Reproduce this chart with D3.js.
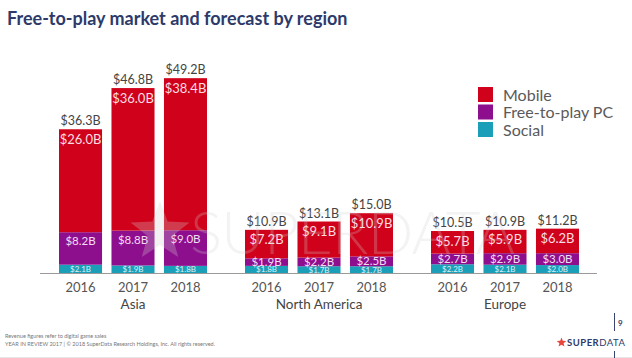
<!DOCTYPE html>
<html><head><meta charset="utf-8">
<script src="https://cdn.jsdelivr.net/npm/d3@7"></script>
<style>body{margin:0;background:#fff}svg{display:block;font-family:Lato,"Open Sans",sans-serif}</style>
</head><body><svg id="c" width="632" height="358"></svg>
<script>
const regions = ["Asia", "North America", "Europe"];
const years = ["2016", "2017", "2018"];
const seriesNames = ["Social", "Free-to-play PC", "Mobile"];
// values per region, per year (billions USD)
const social = [[2.1, 1.9, 1.8], [1.8, 1.7, 1.7], [2.2, 2.1, 2.0]];
const pc = [[8.2, 8.8, 9.0], [1.9, 2.2, 2.5], [2.7, 2.9, 3.0]];
const mobile = [[26.0, 36.0, 38.4], [7.2, 9.1, 10.9], [5.7, 5.9, 6.2]];
const totals = [[36.3, 46.8, 49.2], [10.9, 13.1, 15.0], [10.5, 10.9, 11.2]];
const colors = {"Mobile": "#d0021b", "Free-to-play PC": "#8e0f8e", "Social": "#1b9fb8"};
const legendOrder = ["Mobile", "Free-to-play PC", "Social"];

const svg = d3.select("#c");
const y = d3.scaleLinear().domain([0, 50]).range([273, 75]);
const xr = d3.scaleBand().domain(regions).range([40, 598]);
const xi = d3.scaleBand().domain(years).range([19, 167]).paddingInner(0.18);

// title
svg.append("text").attr("x", 7).attr("y", 25).attr("fill", "#2d3a6a")
  .attr("font-size", 18).attr("font-weight", 700).text("Free-to-play market and forecast by region");

// rows
const rows = [];
regions.forEach((r, ri) => years.forEach((yr, yi) => {
  rows.push({region: r, year: yr, Social: social[ri][yi], "Free-to-play PC": pc[ri][yi], Mobile: mobile[ri][yi], total: totals[ri][yi]});
}));
const stack = d3.stack().keys(seriesNames)(rows);

const g = svg.append("g");
stack.forEach(layer => {
  g.selectAll(null).data(layer).enter().append("rect")
    .attr("x", d => xr(d.data.region) + xi(d.data.year))
    .attr("width", xi.bandwidth())
    .attr("y", d => y(d[1]))
    .attr("height", d => y(d[0]) - y(d[1]))
    .attr("fill", colors[layer.key]);
});

// watermark (behind labels)
const starPath = (cxp, cyp, R, r) => {
  const pts = [];
  for (let i = 0; i < 10; i++) {
    const a = -Math.PI / 2 + i * Math.PI / 5, rr = i % 2 ? r : R;
    pts.push([cxp + rr * Math.cos(a), cyp + rr * Math.sin(a)]);
  }
  return "M" + pts.map(p => p.join(",")).join("L") + "Z";
};
svg.append("path").attr("d", starPath(160, 232, 31, 13)).attr("fill", "#d0d0d0").attr("opacity", 0.28);
svg.append("text").attr("x", 190).attr("y", 254).attr("font-size", 60).attr("font-weight", 300)
  .attr("textLength", 325).attr("lengthAdjust", "spacing")
  .attr("fill", "#d0d0d0").attr("opacity", 0.25).text("SUPERDATA");

const cx = d => xr(d.region) + xi(d.year) + xi.bandwidth() / 2;
// totals
g.selectAll(null).data(rows).enter().append("text")
  .attr("x", cx).attr("y", d => y(d.Mobile + d["Free-to-play PC"] + d.Social) - 4)
  .attr("text-anchor", "middle").attr("font-size", 12.5).attr("fill", "#444")
  .text(d => "$" + d.total.toFixed(1) + "B");
// mobile labels
g.selectAll(null).data(rows).enter().append("text")
  .attr("x", cx).attr("y", d => y(d.Mobile + d["Free-to-play PC"] + d.Social) + 14.5)
  .attr("text-anchor", "middle").attr("font-size", 13).attr("fill", "#fbdde2")
  .text(d => "$" + d.Mobile.toFixed(1) + "B");
// pc labels
g.selectAll(null).data(rows).enter().append("text")
  .attr("x", cx).attr("y", d => {
    const top = y(d["Free-to-play PC"] + d.Social), bot = y(d.Social);
    return top + Math.min(9, (bot - top) / 2) + 4;
  })
  .attr("text-anchor", "middle").attr("font-size", 11.5).attr("fill", "#f3dcf0")
  .text(d => "$" + d["Free-to-play PC"].toFixed(1) + "B");
// social labels
g.selectAll(null).data(rows).enter().append("text")
  .attr("x", cx).attr("y", d => (y(d.Social) + y(0)) / 2 + 3)
  .attr("text-anchor", "middle").attr("font-size", 8).attr("fill", "#d9f3f8")
  .text(d => "$" + d.Social.toFixed(1) + "B");

// baseline
svg.append("line").attr("x1", 40).attr("x2", 597).attr("y1", y(0) + 0.5).attr("y2", y(0) + 0.5)
  .attr("stroke", "#9a9a9a").attr("stroke-width", 1);

// x axis labels
rows.forEach(d => {
  svg.append("text").attr("x", cx(d)).attr("y", 292).attr("text-anchor", "middle")
    .attr("font-size", 13).attr("fill", "#555").text(d.year);
});
regions.forEach(r => {
  svg.append("text").attr("x", xr(r) + xr.bandwidth() / 2).attr("y", 309).attr("text-anchor", "middle")
    .attr("font-size", 13.5).attr("fill", "#444").text(r);
});

// legend
legendOrder.forEach((k, i) => {
  const ly = 87 + i * 17.5;
  svg.append("rect").attr("x", 478).attr("y", ly).attr("width", 15).attr("height", 15).attr("fill", colors[k]);
  svg.append("text").attr("x", 503).attr("y", ly + 13.5).attr("font-size", 16).attr("fill", "#5a5a5a").text(k);
});

// footer
svg.append("text").attr("x", 5).attr("y", 338).attr("font-size", 5.5).attr("fill", "#777")
  .text("Revenue figures refer to digital game sales");
svg.append("text").attr("x", 5).attr("y", 346).attr("font-size", 5.5).attr("fill", "#777")
  .text("YEAR IN REVIEW 2017  |  © 2018 SuperData Research Holdings, Inc. All rights reserved.");
svg.append("line").attr("x1", 0).attr("x2", 632).attr("y1", 357.5).attr("y2", 357.5).attr("stroke", "#e6e6e6");
svg.append("line").attr("x1", 614.5).attr("x2", 614.5).attr("y1", 313).attr("y2", 331).attr("stroke", "#3a4470");
svg.append("line").attr("x1", 614.5).attr("x2", 614.5).attr("y1", 351).attr("y2", 358).attr("stroke", "#3a4470");
svg.append("text").attr("x", 618).attr("y", 326).attr("font-size", 8).attr("font-weight", 700).attr("fill", "#2d3a6a").text("9");
svg.append("path").attr("d", starPath(561.5, 342.5, 5, 2.2)).attr("fill", "#e8453c");
const logo = svg.append("text").attr("x", 567).attr("y", 346).attr("font-size", 9.5).attr("fill", "#2d3a6a").attr("letter-spacing", 0.5);
logo.append("tspan").attr("font-weight", 700).text("SUPER");
logo.append("tspan").attr("font-weight", 400).text("DATA");
</script></body></html>
